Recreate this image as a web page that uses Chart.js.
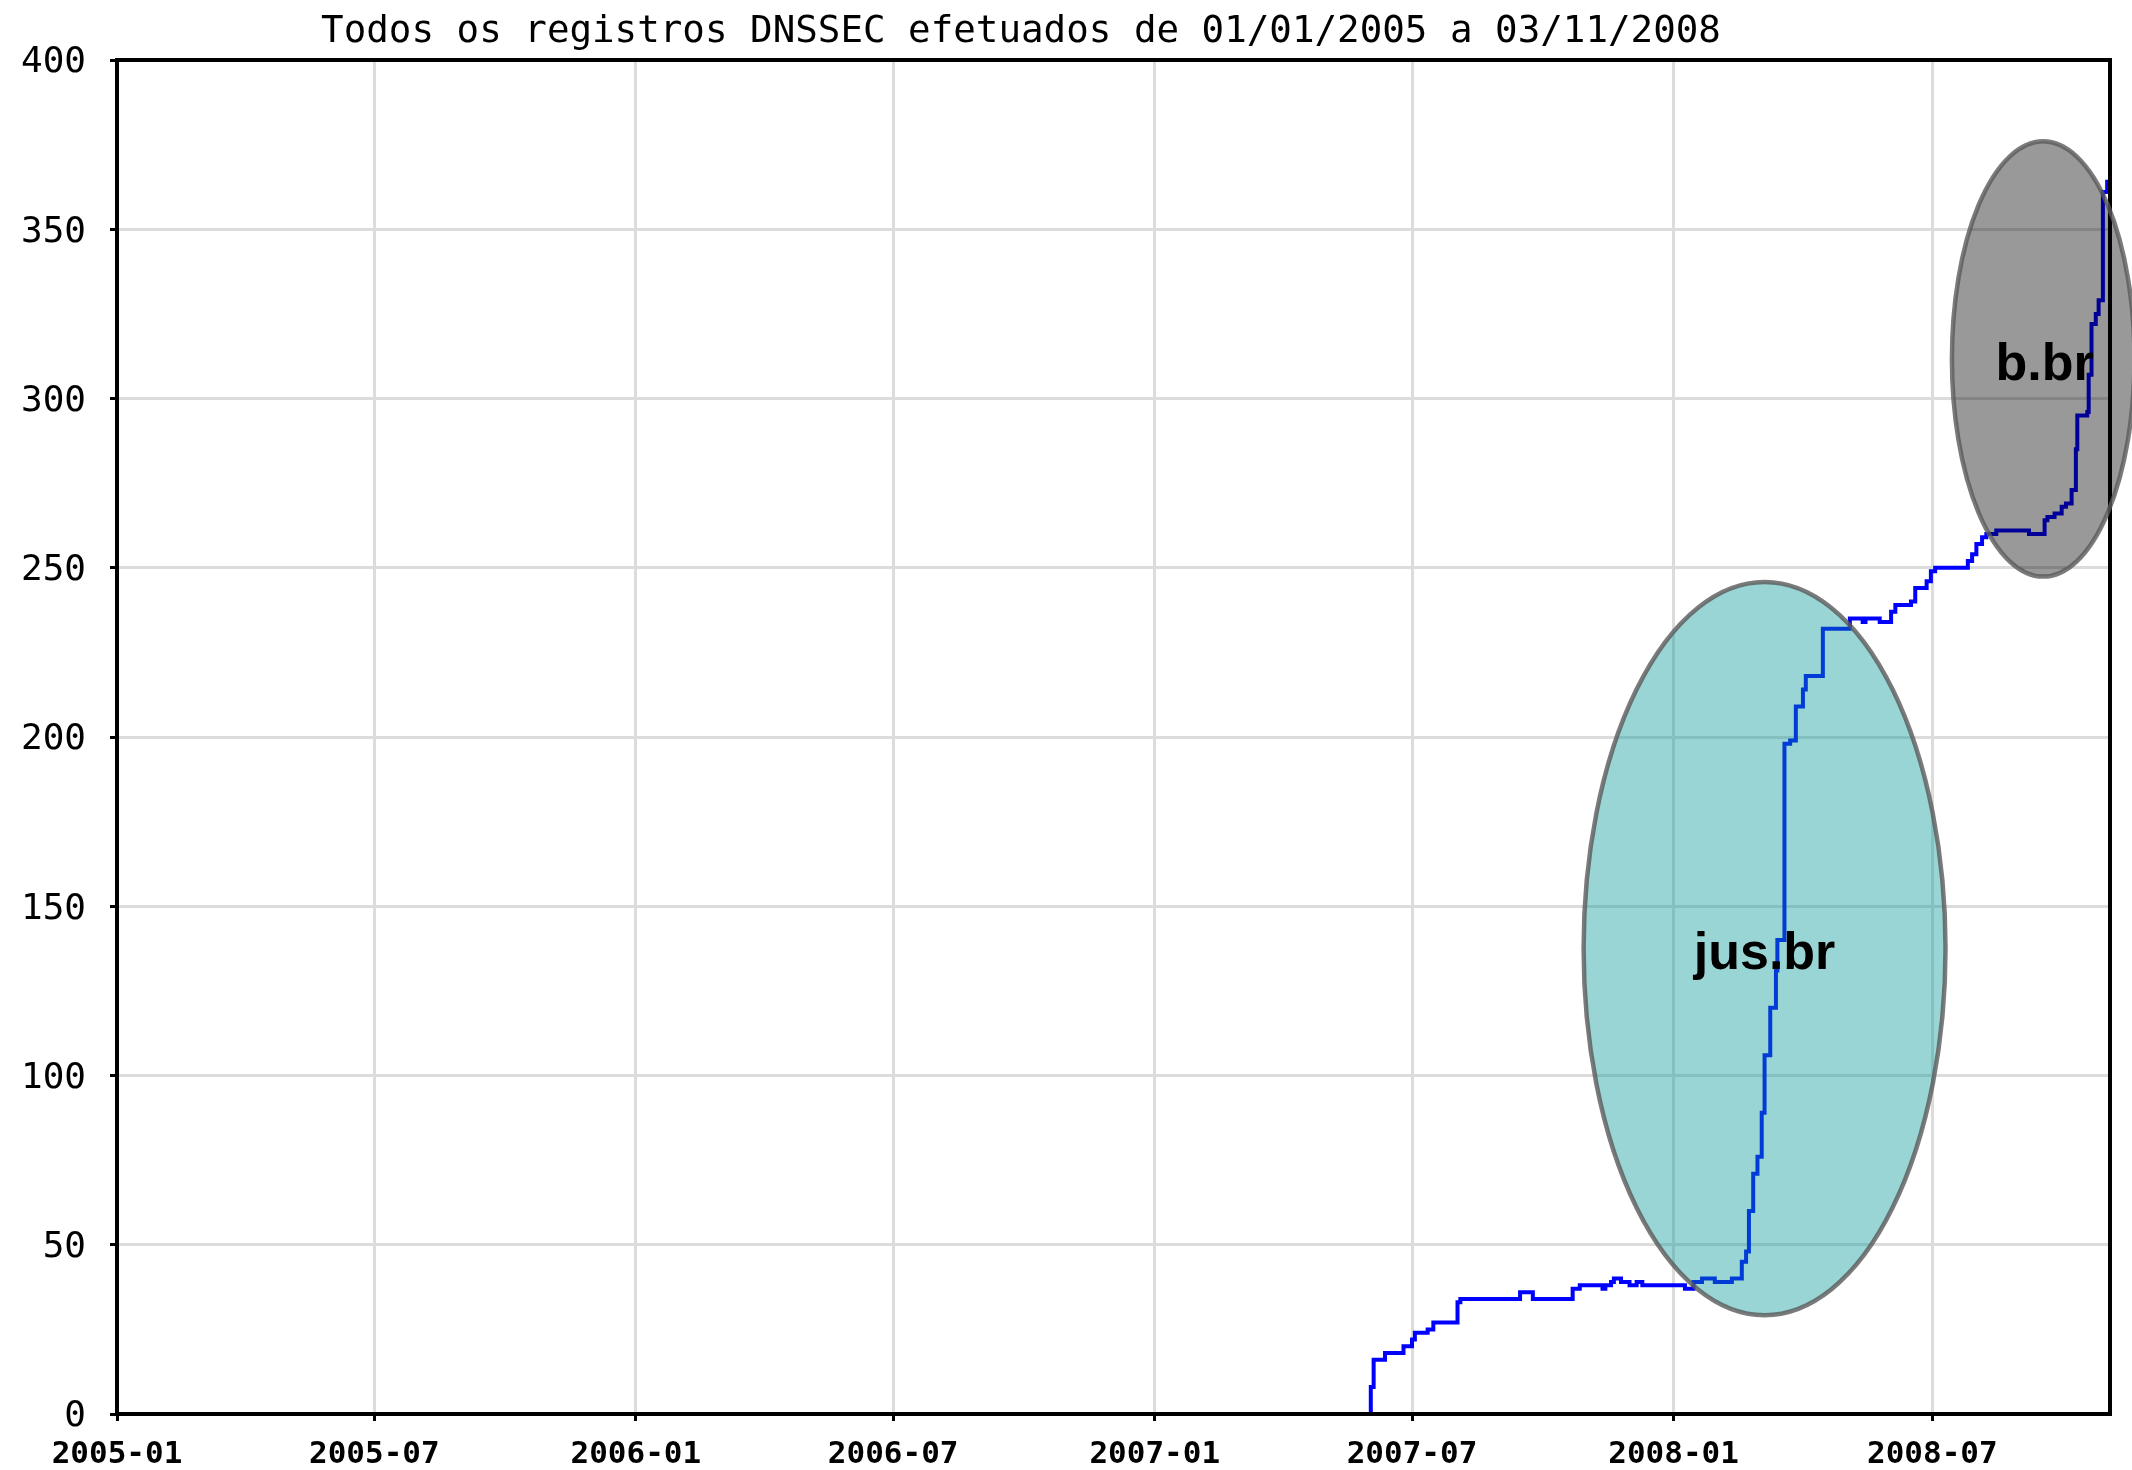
<!DOCTYPE html>
<html>
<head>
<meta charset="utf-8">
<title>Registros DNSSEC</title>
<script src="https://cdn.jsdelivr.net/npm/chart.js@4.4.1/dist/chart.umd.min.js"></script>
<style>
    html, body { margin: 0; padding: 0; background: #fff; }
    #wrap { width: 2132px; height: 1470px; }
</style>
</head>
<body>
<div id="wrap"><canvas id="dnssecChart" width="2132" height="1470"></canvas></div>
<script>
// Data
const chartTitle = 'Todos os registros DNSSEC efetuados de 01/01/2005 a 03/11/2008';
const rangeStart = '2005-01-01';
const rangeEnd = '2008-11-03';

const tickLabels = ['2005-01', '2005-07', '2006-01', '2006-07', '2007-01', '2007-07', '2008-01', '2008-07'];
const yTickValues = [0, 50, 100, 150, 200, 250, 300, 350, 400];

const regDates = [
    '2007-06-01', '2007-06-02', '2007-06-04', '2007-06-12', '2007-06-25', '2007-07-01', '2007-07-03',
    '2007-07-12', '2007-07-16', '2007-08-02', '2007-08-04', '2007-09-15', '2007-09-24', '2007-10-22',
    '2007-10-27', '2007-11-12', '2007-11-14', '2007-11-18', '2007-11-20', '2007-11-25', '2007-12-01',
    '2007-12-06', '2007-12-10', '2008-01-09', '2008-01-15', '2008-01-21', '2008-01-30', '2008-02-11',
    '2008-02-18', '2008-02-21', '2008-02-23', '2008-02-26', '2008-02-29', '2008-03-03', '2008-03-05',
    '2008-03-09', '2008-03-13', '2008-03-14', '2008-03-19', '2008-03-23', '2008-03-27', '2008-04-01',
    '2008-04-03', '2008-04-15', '2008-05-04', '2008-05-13', '2008-05-15', '2008-05-25', '2008-06-02',
    '2008-06-05', '2008-06-16', '2008-06-19', '2008-06-27', '2008-06-30', '2008-07-03', '2008-07-26',
    '2008-07-29', '2008-08-01', '2008-08-05', '2008-08-08', '2008-08-15', '2008-09-07', '2008-09-18',
    '2008-09-20', '2008-09-25', '2008-09-30', '2008-10-03', '2008-10-07', '2008-10-10', '2008-10-11',
    '2008-10-18', '2008-10-19', '2008-10-21', '2008-10-24', '2008-10-26', '2008-10-29', '2008-11-01',
    '2008-11-03'
];
const regTotals = [
    0, 8, 16, 18, 20, 22, 24,
    25, 27, 33, 34, 36, 34, 37,
    38, 37, 38, 39, 40, 39, 38,
    39, 38, 37, 39, 40, 39, 40,
    45, 48, 60, 71, 76, 89, 106,
    120, 131, 140, 198, 199, 209, 214,
    218, 232, 235, 234, 235, 234, 237,
    239, 240, 244, 246, 249, 250, 252,
    254, 257, 259, 260, 261, 260, 264,
    265, 266, 268, 269, 273, 285, 295,
    296, 307, 322, 325, 329, 361, 364,
    364
];

// highlighted zones: centre (date, total) and half-size in days / registrations
const highlightNames = ['jus.br', 'b.br'];
const highlightCenters = [['2008-03-05', 137.5], ['2008-09-17', 311.7]];
const highlightHalfSize = [[127.3, 108.3], [64.2, 64.3]];
const highlightLabelAt = [['2008-03-05', 131.5], ['2008-09-18', 305.5]];
const highlightFills = ['rgba(0, 150, 150, 0.4)', 'rgba(0, 0, 0, 0.4)'];

const DAY_MS = 86400000;
const toDay = (s) => {
    const [y, m, d] = s.split('-').map(Number);
    return (Date.UTC(y, m - 1, d || 1) - Date.UTC(2005, 0, 1)) / DAY_MS;
};

const tickDays = tickLabels.map(toDay);
const points = regDates.map((d, i) => ({ x: toDay(d), y: regTotals[i] }));

const frame = {
    id: 'frame',
    afterDatasetsDraw(chart) {
        const ctx = chart.ctx;
        const a = chart.chartArea;
        const xs = chart.scales.x;
        const ys = chart.scales.y;

        ctx.save();
        // black box round the plot
        ctx.strokeStyle = '#000';
        ctx.lineWidth = 4;
        ctx.strokeRect(a.left, a.top, a.right - a.left, a.bottom - a.top);

        // ellipses over the line
        highlightNames.forEach((name, i) => {
            const day = toDay(highlightCenters[i][0]);
            const cx = xs.getPixelForValue(day);
            const cy = ys.getPixelForValue(highlightCenters[i][1]);
            const rx = xs.getPixelForValue(day + highlightHalfSize[i][0]) - cx;
            const ry = cy - ys.getPixelForValue(highlightCenters[i][1] + highlightHalfSize[i][1]);
            ctx.beginPath();
            ctx.ellipse(cx, cy, rx, ry, 0, 0, Math.PI * 2);
            ctx.fillStyle = highlightFills[i];
            ctx.fill();
            ctx.lineWidth = 4.5;
            ctx.strokeStyle = 'rgba(90, 90, 90, 0.8)';
            ctx.stroke();
        });

        ctx.fillStyle = '#000';
        ctx.font = 'bold 52px "Liberation Sans", Arial, sans-serif';
        ctx.textAlign = 'center';
        ctx.textBaseline = 'alphabetic';
        highlightNames.forEach((name, i) => {
            const lx = xs.getPixelForValue(toDay(highlightLabelAt[i][0]));
            const ly = ys.getPixelForValue(highlightLabelAt[i][1]);
            ctx.fillText(name, lx, ly);
        });

        // title
        ctx.font = '37.5px "DejaVu Sans Mono", monospace';
        ctx.fillText(chartTitle, 1021, 42);
        ctx.restore();
    }
};

const ctx = document.getElementById('dnssecChart').getContext('2d');
new Chart(ctx, {
    type: 'line',
    data: {
        datasets: [{
            data: points,
            borderColor: '#0000ff',
            borderWidth: 4,
            pointRadius: 0,
            stepped: true,
            fill: false
        }]
    },
    options: {
        responsive: false,
        devicePixelRatio: 1,
        animation: false,
        layout: { padding: { top: 60, right: 22, left: 0, bottom: 0 } },
        plugins: {
            legend: { display: false },
            tooltip: { enabled: false },
            title: { display: false }
        },
        scales: {
            x: {
                type: 'linear',
                min: 0,
                max: toDay(rangeEnd),
                afterFit: (scale) => { scale.height = 56; },
                afterBuildTicks: (scale) => { scale.ticks = tickDays.map(v => ({ value: v })); },
                border: { display: false },
                grid: {
                    color: '#dcdcdc',
                    lineWidth: 3,
                    tickColor: '#000',
                    tickWidth: 3,
                    tickLength: 7
                },
                ticks: {
                    autoSkip: false,
                    maxRotation: 0,
                    padding: 15,
                    color: '#000',
                    font: { family: '"DejaVu Sans Mono", monospace', size: 31, weight: 'bold' },
                    callback: (value) => tickLabels[tickDays.indexOf(value)]
                }
            },
            y: {
                min: 0,
                max: 400,
                afterFit: (scale) => { scale.width = 117; },
                afterBuildTicks: (scale) => { scale.ticks = yTickValues.map(v => ({ value: v })); },
                border: { display: false },
                grid: {
                    color: '#dcdcdc',
                    lineWidth: 3,
                    tickColor: '#000',
                    tickWidth: 3,
                    tickLength: 7
                },
                ticks: {
                    autoSkip: false,
                    padding: 24,
                    labelOffset: 3,
                    color: '#000',
                    font: { family: '"DejaVu Sans Mono", monospace', size: 36 }
                }
            }
        }
    },
    plugins: [frame]
});
</script>
</body>
</html>
